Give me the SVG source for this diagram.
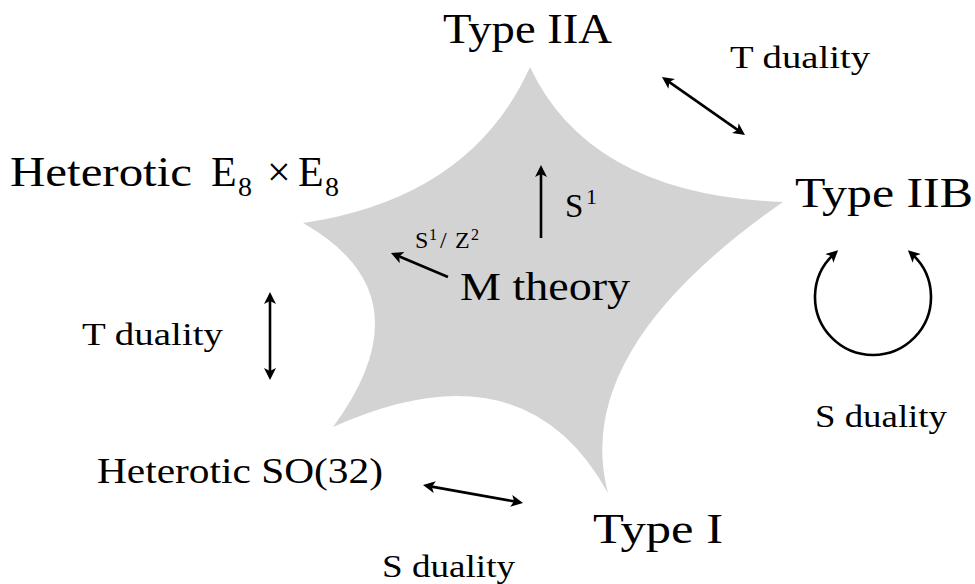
<svg xmlns="http://www.w3.org/2000/svg" width="975" height="584" viewBox="0 0 975 584">
<style>
text{font-family:"Liberation Serif","Times New Roman",serif;fill:#000}
.big{font-size:42px}
.mid{font-size:32px}
.conn{fill:none;stroke:#000;stroke-width:2.6}
.two{marker-start:url(#ah);marker-end:url(#ah)}
.one{marker-end:url(#ah)}
</style>
<defs>
<marker id="ah" viewBox="0 0 10 10" markerWidth="13" markerHeight="12" markerUnits="userSpaceOnUse" refX="5" refY="5" orient="auto-start-reverse">
<path d="M0,0 L10,5 L0,10 L2.5,5 Z" fill="#000"/>
</marker>
</defs>
<rect width="975" height="584" fill="#fff"/>
<g id="mtheory">
<path d="M530 67 Q590 195 783 202 Q570 350 608 493 Q524 341 333 427 Q430 295 303 223 Q471 198 530 67 Z" fill="#d3d3d3"/>
<text x="460" y="300" font-size="40" textLength="170" lengthAdjust="spacingAndGlyphs">M theory</text>
</g>
<g id="typeIIA"><text class="big" x="443" y="43" textLength="169" lengthAdjust="spacingAndGlyphs">Type IIA</text></g>
<g id="typeIIB"><text class="big" x="795" y="207" textLength="178" lengthAdjust="spacingAndGlyphs">Type IIB</text></g>
<g id="typeI"><text class="big" x="593" y="543" textLength="130" lengthAdjust="spacingAndGlyphs">Type I</text></g>
<g id="heteroticE8"><text class="big" x="10" y="186"><tspan x="10" textLength="182" lengthAdjust="spacingAndGlyphs">Heterotic</tspan><tspan x="211">E</tspan><tspan x="238" y="196" font-size="28">8</tspan><tspan x="267" y="186">×</tspan><tspan x="298">E</tspan><tspan x="325" y="196" font-size="28">8</tspan></text></g>
<g id="heteroticSO32"><text x="97" y="483" font-size="35" textLength="286" lengthAdjust="spacingAndGlyphs">Heterotic SO(32)</text></g>
<g id="labels">
<text class="mid" x="730" y="68" textLength="140" lengthAdjust="spacingAndGlyphs">T duality</text>
<text class="mid" x="82" y="345" textLength="141" lengthAdjust="spacingAndGlyphs">T duality</text>
<text class="mid" x="382" y="577" textLength="133" lengthAdjust="spacingAndGlyphs">S duality</text>
<text class="mid" x="815" y="427" textLength="132" lengthAdjust="spacingAndGlyphs">S duality</text>
<text x="565" y="217" font-size="33">S<tspan x="586" y="204" font-size="22">1</tspan></text>
<text x="415" y="248" font-size="24">S<tspan x="429" y="240" font-size="16">1</tspan><tspan x="440" y="248">/</tspan><tspan x="455">Z</tspan><tspan x="471" y="240" font-size="16">2</tspan></text>
</g>
<g id="connectors">
<line class="conn two" x1="666.9" y1="80.4" x2="740.1" y2="131.6"/>
<line class="conn one" x1="541" y1="238" x2="541" y2="171"/>
<line class="conn one" x1="448" y1="277" x2="396.5" y2="255.3"/>
<line class="conn two" x1="270" y1="298" x2="270" y2="374"/>
<line class="conn two" x1="428.9" y1="486.1" x2="517.1" y2="501.9"/>
<path class="conn two" d="M833.7 254.3 A58 58 0 1 0 912.3 254.3"/>
</g>
</svg>
